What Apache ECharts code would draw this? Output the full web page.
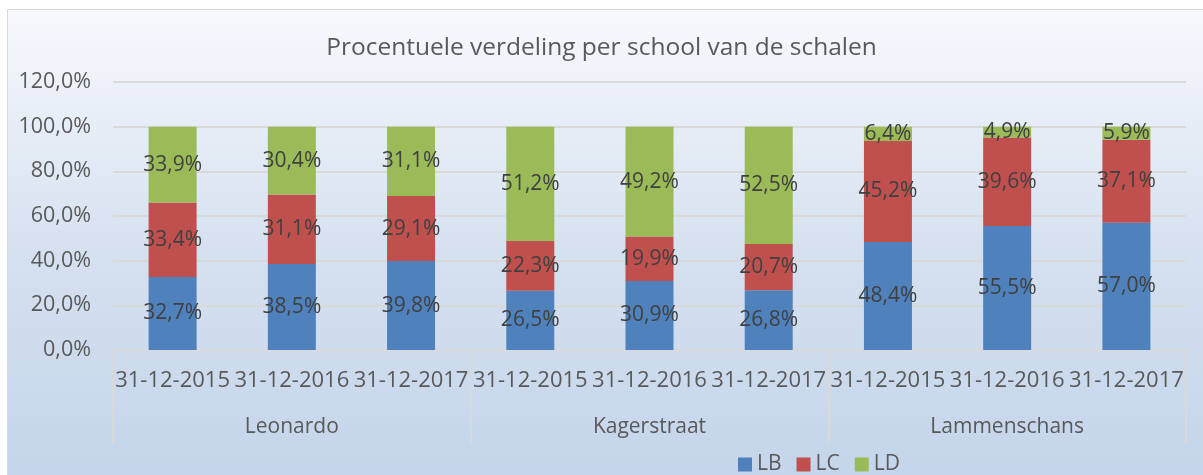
<!DOCTYPE html>
<html><head><meta charset="utf-8">
<script src="https://cdn.jsdelivr.net/npm/echarts@6/dist/echarts.min.js"></script>
<style>html,body{margin:0;padding:0;background:#fff;}#c{width:1203px;height:475px;}</style>
</head><body><div id="c"></div>
<script>
const dates = ['31-12-2015','31-12-2016','31-12-2017','31-12-2015','31-12-2016','31-12-2017','31-12-2015','31-12-2016','31-12-2017'];
const schools = ['Leonardo','Kagerstraat','Lammenschans'];
const LB = [32.7, 38.5, 39.8, 26.5, 30.9, 26.8, 48.4, 55.5, 57.0];
const LC = [33.4, 31.1, 29.1, 22.3, 19.9, 20.7, 45.2, 39.6, 37.1];
const LD = [33.9, 30.4, 31.1, 51.2, 49.2, 52.5, 6.4, 4.9, 5.9];
const yTicks = [0, 20, 40, 60, 80, 100, 120];

const FONT = 'Open Sans';
const TXT = '#404040';
const fmt = v => v.toFixed(1).replace('.', ',') + '%';
const chart = echarts.init(document.getElementById('c'));
function ser(name, data, color) {
  return {
    name, type: 'bar', stack: 's', data, xAxisIndex: 0, barWidth: 48,
    itemStyle: { color },
    label: { show: true, position: 'inside', color: TXT, fontFamily: FONT, fontSize: 21,
      formatter: p => fmt(p.value) }
  };
}
chart.setOption({
  backgroundColor: '#ffffff',
  graphic: [{
    type: 'rect', z: -10, silent: true,
    shape: { x: 7.5, y: 9.5, width: 1200, height: 480 },
    style: {
      fill: new echarts.graphic.LinearGradient(0, 0, 0, 1, [
        { offset: 0, color: '#f7f9fd' },
        { offset: 0.5, color: '#d6e1f0' },
        { offset: 1, color: '#c3d4ea' }
      ]),
      stroke: '#d9d9d9', lineWidth: 1
    }
  }],
  title: {
    text: 'Procentuele verdeling per school van de schalen',
    left: 'center', top: 31,
    textStyle: { fontFamily: FONT, fontSize: 24.5, fontWeight: 'normal', color: '#595959' }
  },
  legend: {
    left: 733, top: 449, itemWidth: 14, itemHeight: 14, itemGap: 15,
    icon: 'rect',
    textStyle: { fontFamily: FONT, fontSize: 21, color: '#595959' },
    data: ['LB', 'LC', 'LD']
  },
  grid: { left: 113, right: 17, top: 82, bottom: 125 },
  xAxis: [{
    type: 'category', data: dates, position: 'bottom',
    axisLine: { lineStyle: { color: '#d9d9d9', width: 2 } },
    axisTick: { show: false },
    axisLabel: { interval: 0, margin: 20, fontFamily: FONT, fontSize: 22, color: '#595959' }
  }, {
    type: 'category', data: schools, position: 'bottom', offset: 0,
    axisLine: { show: false },
    axisTick: { show: true, length: 93, interval: 0, lineStyle: { color: '#d9d9d9', width: 2 } },
    axisLabel: { interval: 0, margin: 67, fontFamily: FONT, fontSize: 21, color: '#595959' }
  }],
  yAxis: {
    type: 'value', min: yTicks[0], max: yTicks[yTicks.length - 1], interval: 20,
    axisLine: { show: false }, axisTick: { show: false },
    splitLine: { lineStyle: { color: '#d9d9d9', width: 2 } },
    axisLabel: { margin: 22, fontFamily: FONT, fontSize: 21.5, color: '#595959',
      formatter: v => v.toFixed(1).replace('.', ',') + '%' }
  },
  series: [ser('LB', LB, '#4f81bd'), ser('LC', LC, '#c0504d'), ser('LD', LD, '#9bbb59')]
});
</script></body></html>
